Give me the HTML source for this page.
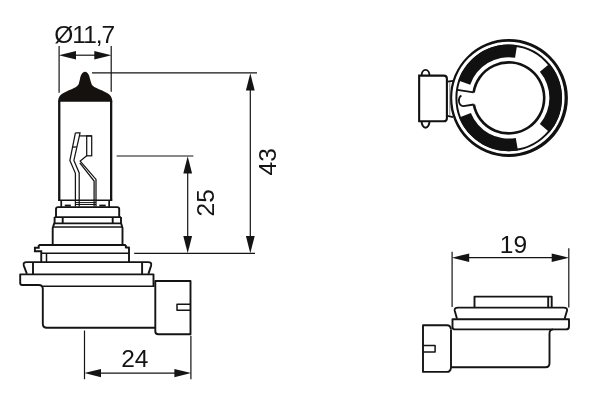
<!DOCTYPE html>
<html>
<head>
<meta charset="utf-8">
<title>Bulb dimensions</title>
<style>
html,body{margin:0;padding:0;background:#fff;}
body{width:600px;height:400px;overflow:hidden;}
svg{display:block;will-change:transform;transform:translateZ(0);}
text{font-family:"Liberation Sans",Arial,Helvetica,sans-serif;fill:#141414;}
</style>
</head>
<body>
<svg width="600" height="400" viewBox="0 0 600 400">
<rect width="600" height="400" fill="#fff"/>

<!-- ================= FRONT VIEW ================= -->
<g id="front" fill="none" stroke="#141414" stroke-width="1.9" stroke-linejoin="round" stroke-linecap="butt">
  <!-- black cap -->
  <path fill="#15110e" stroke="none" d="M58.1,101.8 L58.2,100 C58.5,97 60.4,94.8 63,93.2 C67,91 71,89.5 74,88 C77,86.6 78.6,85 79,83 L80,79 C80.5,76 82,71.8 85,71.8 C88,71.8 89.5,76 90,79 L91.2,83 C91.6,85 93.2,86.6 96.5,88 C99.5,89.5 103.5,91 107.5,93.2 C110,94.8 111.9,97 112.2,100 L112.3,101.8 Z"/>
  <!-- glass tube -->
  <path stroke-width="2.3" d="M59.25,101 V200.2 M111.15,101 V200.2"/>
  <path stroke-width="1.4" d="M58.1,200.2 H112.3"/>
  <!-- neck -->
  <path stroke-width="1.7" d="M61.25,200 V207 M109.15,200 V207"/>
  <path stroke-width="1" d="M76,202.6 H96 M76,204.5 H96"/>
  <rect x="64.8" y="204.6" width="6" height="1.9" fill="#141414" stroke="none"/>
  <rect x="99.3" y="204.6" width="6.4" height="1.9" fill="#141414" stroke="none"/>
  <!-- filament supports -->
  <g stroke-width="1.25" stroke-linejoin="miter">
    <path d="M75.4,132.9 L69.9,160.4 L75.4,173.3 V206.5"/>
    <path d="M75.4,132.9 H80 L79.4,135.8 L73.9,160.4 L79.2,172.9 V206.5"/>
    <path d="M72.6,147.2 L76.8,146.8"/>
    <path d="M79.5,135.9 H91.7"/>
    <rect x="86.7" y="135.9" width="5" height="19.9"/>
    <path d="M86.7,155.8 L80.2,161.1 L96,179.4 V206.5"/>
    <path d="M79.8,162.8 L94.1,181 V206.5"/>
  </g>
  <!-- collar 1 -->
  <path d="M56,217.1 V209.1 Q56,207.1 58,207.1 H117.2 Q119.2,207.1 119.2,209.1 V217.1"/>
  <path d="M54.6,217.1 H121"/>
  <!-- level 2 -->
  <path d="M54.6,217.1 V223.4 M121,217.1 V223.4 M62.7,217.1 V223.4 M112.7,217.1 V223.4"/>
  <path d="M53.7,223.4 H121.8"/>
  <path d="M54.2,223.4 L52.7,228 V245 M121.2,223.4 L122.5,228 V245"/>
  <path stroke-width="1.5" d="M53.2,226.9 H122"/>
  <!-- step ring -->
  <path d="M38.75,245 H125.8"/>
  <path stroke-linejoin="miter" d="M38.75,245 V247.8 H34.9 V251.3 H41.25 V262"/>
  <path d="M125.8,245 V247.5 H129 V262"/>
  <path stroke-width="1.5" d="M41.25,253.3 H129 M46.5,253.3 V262"/>
  <!-- flange -->
  <path d="M26.9,273.9 L23.8,265.6 Q22.8,262.1 26.8,262.1 H148 Q152,262.1 151.1,265.6 L148.4,273.9"/>
  <path d="M33,262.1 V274 M142.1,262.1 V274"/>
  <!-- plate -->
  <path d="M153.5,286.2 V274.4 H20.2 V283 Q20.2,285 22.2,285 H38.8 Q42.8,285 42.8,289 V323.7 Q42.8,327.7 46.8,327.7 H155"/>
  <path stroke-width="1.5" d="M42.8,286.3 H154.4"/>
  <!-- connector -->
  <path d="M155.3,281 H190.5 V334.2 H158.3 Q155.3,334.2 155.3,331.2 Z"/>
  <path stroke-width="1.5" d="M190.5,304.3 H177 V310.2 H190.5"/>
</g>

<!-- dimensions front -->
<g id="dims" fill="none" stroke="#141414" stroke-width="1.2">
  <path d="M59.1,46 V92.7 M111.2,46 V91.8"/>
  <path d="M70,55.2 H100"/>
  <path d="M92,72.9 H257"/>
  <path d="M250.3,85 V240"/>
  <path d="M116.6,156 H193.4"/>
  <path d="M187.7,168 V240"/>
  <path d="M134.2,253.4 H255"/>
  <path d="M84.5,330.4 V379.2 M190.9,335.8 V379.2"/>
  <path d="M96,373.1 H180"/>
</g>
<g id="arrows" fill="#141414" stroke="none">
  <path d="M58.9,55.2 L76,50.9 V59.5 Z"/>
  <path d="M111.4,55.2 L94.3,50.9 V59.5 Z"/>
  <path d="M250.3,73.2 L245.9,90.4 H254.7 Z"/>
  <path d="M250.3,253.2 L245.9,236 H254.7 Z"/>
  <path d="M187.7,156.3 L183.3,173.6 H192.1 Z"/>
  <path d="M187.7,253.2 L183.3,236 H192.1 Z"/>
  <path d="M84.3,373.1 L101,368.9 V377.3 Z"/>
  <path d="M191.1,373.1 L174.4,368.9 V377.3 Z"/>
</g>
<text x="54.3" y="42.6" font-size="24.5" letter-spacing="-1">Ø11,7</text>
<text x="121.2" y="367" font-size="24.5">24</text>
<text transform="translate(275.5,175.5) rotate(-90)" font-size="24.5">43</text>
<text transform="translate(214,216.5) rotate(-90)" font-size="24.5">25</text>

<!-- ================= TOP VIEW ================= -->
<g id="top" fill="none" stroke="#111" stroke-linejoin="round">
  <path fill="#111" stroke="none" fill-rule="evenodd" d="M449.9,98.1 a59,59 0 1 0 118,0 a59,59 0 1 0 -118,0 Z M452.2,97.85 a56.2,56.2 0 1 0 112.4,0 a56.2,56.2 0 1 0 -112.4,0 Z"/>
  <circle cx="508.7" cy="97.9" r="52.3" stroke-width="2"/>
  <path stroke-width="2.6" d="M473.62,92.47 A35.50,35.50 0 1 1 473.82,104.49"/>
  <path fill="#111" stroke="none" d="M458.30,80.55 A53.30,53.30 0 0 1 517.04,45.26 L515.07,57.70 A40.70,40.70 0 0 0 470.22,84.65 Z M549.53,63.64 A53.30,53.30 0 0 1 549.53,132.16 L539.88,124.06 A40.70,40.70 0 0 0 539.88,71.74 Z M517.96,150.39 A53.30,53.30 0 0 1 459.18,117.61 L470.88,112.95 A40.70,40.70 0 0 0 515.77,137.98 Z"/>
  <!-- key -->
  <path stroke-width="1.8" d="M457.4,89.9 L473.62,92.47"/>
  <path stroke-width="1.8" d="M473.82,104.49 L463.5,106.2 Q459.2,105.6 458.9,101 Q458.7,97 461.4,95.4"/>
  <!-- connector -->
  <path stroke-width="2.1" stroke-linejoin="miter" d="M419.15,75.6 H443.8 Q446.9,75.6 446.9,78.7 V118.2 Q446.9,121.3 443.8,121.3 H419.15 Z"/>
  <path stroke-width="1.9" d="M421.6,75.6 A3.95,5.7 0 0 1 429.5,75.6 M421.6,121.3 A3.95,6.4 0 0 0 429.5,121.3"/>
  <path stroke-width="1.7" d="M447.5,81.7 L453,80.8 M447.5,115.9 L453,117.2"/>
  <path stroke-width="0.9" stroke="#777" d="M449.8,82 V115.6"/>
</g>

<!-- ================= SIDE VIEW ================= -->
<g id="side" fill="none" stroke="#141414" stroke-width="1.9" stroke-linejoin="round">
  <path d="M474.5,307.6 V296.6 H551.7 V307.6 M548.2,296.6 V307.6"/>
  <path d="M457,318.8 L454.8,311 Q454,307.6 458,307.6 H563.6 Q567.8,307.6 566.9,311 L564.6,318.8"/>
  <path d="M452.5,319.2 H569 V326.4 Q569,329.4 566,329.4 H455 Q452.5,329.4 452.5,326.9 Z"/>
  <path d="M451,329.4 V367.3 H545.5 Q549.5,367.3 549.5,363.3 V333.4 Q549.5,329.8 553,329.4"/>
  <path d="M451,329.4 Q450.6,325.2 447,325.2 H423 V371.9 H447 Q450.6,371.9 451,367.3"/>
  <path stroke-width="1.5" d="M423,345.5 H435.1 V351.9 H423"/>
</g>
<g fill="none" stroke="#141414" stroke-width="1.2">
  <path d="M452.1,251.8 V307 M568.8,248.3 V307.6"/>
  <path d="M465,257.7 H556"/>
</g>
<g fill="#141414" stroke="none">
  <path d="M451.9,257.7 L469.2,253.4 V262 Z"/>
  <path d="M569,257.7 L551.7,253.4 V262 Z"/>
</g>
<text x="499.8" y="253.4" font-size="24.5">19</text>
</svg>
</body>
</html>
